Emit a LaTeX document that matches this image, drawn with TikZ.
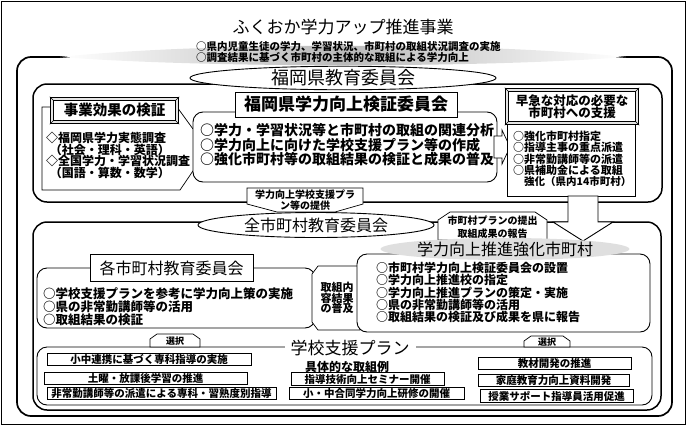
\documentclass[tikz,border=0pt]{standalone}
\usepackage{fontspec}
\newfontfamily\jp{Noto Sans CJK JP}
\usetikzlibrary{shapes.geometric, positioning}
\newcommand{\jpsize}[2]{\fontsize{#1}{#2}\selectfont}

\begin{document}
\begin{tikzpicture}[x=1pt, y=-1pt,
    panel/.style={draw, line width=1.7pt, rounded corners=14pt},
    listbox/.style={draw, line width=0.9pt, rounded corners=10pt, fill=white},
    headbox/.style={draw, line width=0.9pt, fill=white, inner sep=0pt},
    bevel/.style={draw, line width=0.6pt, double=gray!20, double distance=2.4pt, fill=white, inner sep=0pt},
    lines/.style={anchor=west, align=left, inner sep=0pt},
    tag/.style={draw, line width=0.7pt, fill=white},
    plan/.style={draw, line width=0.7pt, fill=white, inner sep=0pt, minimum height=12.5pt,
                 font=\jp\bfseries\jpsize{10.5}{10.5}}]
    \useasboundingbox (0,0) rectangle (687,426);
    \draw[line width=0.8pt] (1.5,1.5) rectangle (685,424.5);

    % prefecture level
    \draw[panel] (17,57) rectangle (672,416);
    \shade[left color=white, right color=white, middle color=gray!55]
        (60,57) .. controls (200,42) and (486,42) .. (626,57) .. controls (486,68) and (200,68) .. cycle;
    \node[font=\jp\jpsize{17}{17}] (title) at (343,27) {ふくおか学力アップ推進事業};
    \node[lines, font=\jp\bfseries\jpsize{10.5}{11}] (aims) at (196,52.5)
        {○県内児童生徒の学力、学習状況、市町村の取組状況調査の実施\\○調査結果に基づく市町村の主体的な取組による学力向上};

    \draw[panel, line width=1.5pt] (33,84) rectangle (662,202);
    \node[draw, ellipse, line width=0.9pt, fill=white, minimum width=306pt, minimum height=21pt,
          inner sep=0pt, font=\jp\jpsize{18}{18}] (board) at (343,78) {福岡県教育委員会};

    % effect check
    \draw[line width=0.7pt] (52,107) -- (42,107) -- (42,190) -- (180,190) -- (197,165);
    \draw[line width=0.7pt] (177,107) -- (193,129);
    \node[bevel, minimum width=125pt, minimum height=23pt, font=\jp\bfseries\jpsize{14.5}{14.5}] (effect) at (114.5,110.5) {事業効果の検証};
    \foreach \n/\dx/\dy in {north west/1/1, north east/-1/1, south west/1/-1, south east/-1/-1}
        \draw[line width=0.4pt] (effect.\n) ++(-2*\dx,-2*\dy) -- ++(4*\dx,4*\dy);
    \node[lines, font=\jp\bfseries\jpsize{12}{11.8}] (surveys) at (46,155.5)
        {◇福岡県学力実態調査\\\hspace{0.3em}（社会・理科・英語）\\◇全国学力・学習状況調査\\\hspace{0.3em}（国語・算数・数学）};

    % verification committee
    \draw[listbox] (193,112) rectangle (497,182);
    \node[headbox, minimum width=222pt, minimum height=25pt, font=\jp\bfseries\jpsize{17}{17}] (council) at (346,104.5) {福岡県学力向上検証委員会};
    \node[lines, font=\jp\bfseries\jpsize{14}{13}] (tasks) at (200,145)
        {○学力・学習状況等と市町村の取組の関連分析\\○学力向上に向けた学校支援プラン等の作成\\○強化市町村等の取組結果の検証と成果の普及};
    \draw[tag] (494,136) -- (502,136) -- (502,130) -- (510,147) -- (502,164) -- (502,158) -- (494,158) -- cycle;

    % urgent support
    \draw[line width=0.9pt, fill=white] (507,123) rectangle (635,196);
    \node[bevel, minimum width=130pt, minimum height=33pt, align=center, font=\jp\bfseries\jpsize{12.5}{12.5}] (urgent) at (572,106.5)
        {早急な対応の必要な\\市町村への支援};
    \foreach \n/\dx/\dy in {north west/1/1, north east/-1/1, south west/1/-1, south east/-1/-1}
        \draw[line width=0.4pt] (urgent.\n) ++(-2*\dx,-2*\dy) -- ++(4*\dx,4*\dy);
    \node[lines, font=\jp\bfseries\jpsize{11}{10.6}] (support) at (513,159)
        {○強化市町村指定\\○指導主事の重点派遣\\○非常勤講師等の派遣\\○県補助金による取組\\\hspace{1em}\jpsize{10.5}{10.6}強化（県内14市町村）};

    % municipal level
    \draw[panel, line width=1.5pt] (33,222) rectangle (661,410);
    \draw[line width=0.9pt, fill=white] (568,196) -- (598,196) -- (598,222) -- (613,222) -- (583,241) -- (553,222) -- (568,222) -- cycle;

    \draw[tag] (247,188) -- (363,188) -- (363,204) -- (335,212) -- (277,212) -- (247,204) -- cycle;
    \node[align=center, inner sep=0pt, font=\jp\bfseries\jpsize{10}{11}] (offer) at (305,200) {学力向上学校支援プラ\\ン等の提供};
    \draw[tag] (438,240) -- (438,220) -- (450,212) -- (535,212) -- (547,220) -- (547,240) -- cycle;
    \node[align=center, inner sep=0pt, font=\jp\bfseries\jpsize{10}{12.5}] (report) at (492.5,227) {市町村プランの提出\\取組成果の報告};
    \node[draw, ellipse, line width=0.9pt, fill=white, minimum width=236pt, minimum height=25pt,
          inner sep=0pt, font=\jp\jpsize{16}{16}] (allboards) at (316,225) {全市町村教育委員会};

    % each board
    \draw[listbox] (37,268) rectangle (315,328);
    \node[headbox, minimum width=163pt, minimum height=27pt, font=\jp\jpsize{16}{16}] (city) at (171.5,268) {各市町村教育委員会};
    \node[lines, font=\jp\bfseries\jpsize{12.5}{11.6}] (cityjobs) at (43,306.5)
        {○学校支援プランを参考に学力向上策の実施\\○県の非常勤講師等の活用\\○取組結果の検証};
    \draw[tag] (318,266) -- (360,266) -- (360,330) -- (318,330) -- (312,322) -- (312,274) -- cycle;
    \node[align=center, inner sep=0pt, font=\jp\bfseries\jpsize{11}{10.5}] (spread) at (337,298) {取組内\\容結果\\の普及};

    % focus municipalities
    \draw[listbox] (357,254) rectangle (650,332);
    \node[ellipse, fill=gray!25, minimum width=210pt, minimum height=22pt, inner sep=0pt, font=\jp\jpsize{16}{16}] (focus) at (505,249) {学力向上推進強化市町村};
    \node[lines, font=\jp\bfseries\jpsize{12}{12.2}] (focusjobs) at (376,292.5)
        {○市町村学力向上検証委員会の設置\\○学力向上推進校の指定\\○学力向上推進プランの策定・実施\\○県の非常勤講師等の活用\\○取組結果の検証及び成果を県に報告};

    % school support plan
    \draw[listbox] (37,347) rectangle (652,405);
    \draw[tag] (150,347) -- (150,339) -- (157,334) -- (193,334) -- (200,339) -- (200,347) -- cycle;
    \node[inner sep=0pt, font=\jp\bfseries\jpsize{9}{9}] (pickleft) at (175,341) {選択};
    \draw[tag] (524,347) -- (524,341) -- (531,336) -- (563,336) -- (570,341) -- (570,347) -- cycle;
    \node[inner sep=0pt, font=\jp\bfseries\jpsize{9}{9}] (pickright) at (547,342) {選択};
    \node[fill=white, inner xsep=6pt, inner ysep=0pt, font=\jp\jpsize{17}{17}] (plan) at (350,348) {学校支援プラン};
    \node[inner sep=0pt, font=\jp\bfseries\jpsize{12}{12}] (examples) at (347,367) {具体的な取組例};

    \node[plan, minimum width=204pt] (sup1) at (149,359.5) {小中連携に基づく専科指導の実施};
    \node[plan, minimum width=203pt] (sup2) at (145.5,378.5) {土曜・放課後学習の推進};
    \node[plan, minimum width=229pt] (sup3) at (161.5,393.5) {非常勤講師等の派遣による専科・習熟度別指導};
    \node[plan, minimum width=153pt] (sup4) at (367.5,379) {指導技術向上セミナー開催};
    \node[plan, minimum width=175pt] (sup5) at (376.5,393.5) {小・中合同学力向上研修の開催};
    \node[plan, minimum width=153pt] (sup6) at (554.5,363.5) {教材開発の推進};
    \node[plan, minimum width=151pt] (sup7) at (553.5,380.5) {家庭教育力向上資料開発};
    \node[plan, minimum width=153pt] (sup8) at (556.5,396) {授業サポート指導員活用促進};
\end{tikzpicture}
\end{document}
